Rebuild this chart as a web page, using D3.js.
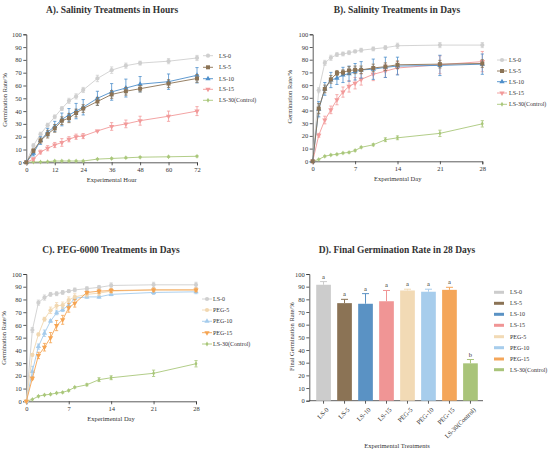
<!DOCTYPE html>
<html><head><meta charset="utf-8">
<script src="https://cdn.jsdelivr.net/npm/d3@7"></script>
<style>body{margin:0;background:#fff}svg{display:block}text{font-family:"Liberation Serif","Times New Roman",serif;fill:#333}</style>
</head><body>
<svg id="c" width="550" height="452"></svg>
<script>
// ---------- DATA ----------
const hours = [0,3,6,9,12,15,18,21,24,30,36,42,48,60,72];
const daysX = [0,1,2,3,4,5,6,7,8,10,12,14,21,28];
const hourTicks = [0,12,24,36,48,60,72];
const dayTicks = [0,7,14,21,28];
const yTicks = [0,10,20,30,40,50,60,70,80,90,100];

// Panel A (hours)
const aLS0  = [0,13,22,29,35.5,42,48,51.5,56.5,65.5,72,75.5,77.5,79,81.5];
const aLS5  = [0,9,17,22,26.5,32.5,34.5,38.5,42,47.5,53,55.5,57.5,61.5,65.5];
const aLS10 = [0,7,17,23.5,28,33.5,37,40,43,50,55,58,61,63,68];
const aLS15 = [0,2.5,8,11,13.5,15.5,18,20,20.5,24.5,28,30,32.5,36,40];
const aLS30 = [0,0.3,0.3,0.5,1,1,1,1,1,2.5,3,3.5,4,4.3,4.7];
const aLS0e  = [0,1.5,1.5,1.5,1.5,1.5,2,2,2,2.5,2.5,2,1.5,2,2];
const aLS5e  = [0,1.5,2,3,3,3,3.5,3,3,3,3,3,2.5,3,3];
const aLS10e = [0,2,3,3,4,5,5,6,6,5.5,6.5,7,6,6,6];
const aLS15e = [0,1,1.5,2,2,3,2,2,2,0.5,3,3,3.5,4,3.5];
const aLS30e = [0,0.2,0.2,0.3,0.5,0.5,0.5,0.5,0.5,0.5,0.5,0.5,0.5,0.5,0.5];

// Panel B (days, salinity)
const bLS0  = [0,56,77.5,81.5,84,84.5,85.5,86.5,87.5,88.5,89.5,91,91.5,91.5];
const bLS5  = [0,41.5,57,64.5,69.5,70,71.5,72,72,73.5,74.5,76,76.5,77];
const bLS10 = [0,41,57,64,65.5,68,69,70.5,72,72.5,74,75,75.5,76.5];
const bLS15 = [0,20.5,32.5,40.5,48.5,54.5,59,61.5,64.5,68.5,71,73.5,76,78.5];
const bLS30 = [0,1.5,4,5,5.5,6.5,7,8.5,11,13,17,18.5,22,29.5];
const bLS0e  = [0,2,2,2,1.5,1.5,1.5,1,1.5,1.5,1.5,2,2,2];
const bLS5e  = [0,4,3,3,2,2,3,3,3,3,3,3,3,3];
const bLS10e = [0,6,5,6,5,6,6,6.5,6.5,8,8,7,8,8];
const bLS15e = [0,1.5,3,3,4,4,4.5,4.5,4.5,5,5,5,7,8];
const bLS30e = [0,0.3,0.5,0.5,0.5,0.5,0.5,0.5,0.5,0.8,1.5,1.5,2.5,2.5];

// Panel C (days, PEG)
const cPEG5  = [0,36.5,52.5,64.5,71.5,75,75.5,79.5,82,84,85,86.5,87.5,87.5];
const cPEG10 = [0,23.5,43,53.5,63,69.5,72,75.5,81,82,82,84,85.5,86];
const cPEG15 = [0,18,36,42.5,50,59.5,64,73.5,77,85.5,86.5,87,87.5,87.5];
const cPEG5e  = [0,1,1,1.5,2.5,2.5,2.5,2.5,2.5,2,2,1.5,1,1];
const cPEG10e = [0,4,2,2.5,1,1.5,1.5,1.5,1.5,1,1,1,1.5,1.5];
const cPEG15e = [0,1,2.5,3,4,4,3.5,3.5,3,1,1.5,1.5,1.5,1.5];

// Panel D (final)
const treatments = ["LS-0","LS-5","LS-10","LS-15","PEG-5","PEG-10","PEG-15","LS-30(Control)"];
const finalRate  = [91.5,77,76.5,78.5,87,86,87.5,29.5];
const finalErr   = [2.5,3,8,8.5,1,2,2,3];
const letters    = ["a","a","a","a","a","a","a","b"];

// ---------- STYLE ----------
const col = {"LS-0":"#cfcfcf","LS-5":"#8b7355","LS-10":"#4e8fcb","LS-15":"#f29a9a",
  "PEG-5":"#f1d7b0","PEG-10":"#a4cbec","PEG-15":"#f5a452","LS-30(Control)":"#a9c77a"};
const barCol = {"LS-0":"#cccccc","LS-5":"#8b7355","LS-10":"#5a92c4","LS-15":"#f09595",
  "PEG-5":"#f2dab5","PEG-10":"#a7cdec","PEG-15":"#f4a65a","LS-30(Control)":"#a9c47a"};
const sym = {"LS-0":d3.symbolCircle,"LS-5":d3.symbolSquare,"LS-10":d3.symbolTriangle,"LS-15":d3.symbolTriangle,
  "PEG-5":d3.symbolCircle,"PEG-10":d3.symbolTriangle,"PEG-15":d3.symbolTriangle,"LS-30(Control)":d3.symbolDiamond};
const symSize = {"LS-0":14,"LS-5":16,"LS-10":12,"LS-15":12,"PEG-5":14,"PEG-10":12,"PEG-15":12,"LS-30(Control)":7};
const flip = {"LS-15":true,"PEG-15":true};

const svg = d3.select("#c");

function axes(g, x, y, xt, ylab, xlab, ylx, yly, xlx, xly){
  const ya = g.append("g").attr("transform",`translate(${x.range()[0]},0)`)
    .call(d3.axisLeft(y).tickValues(yTicks).tickSize(3).tickPadding(1.5));
  const xa = g.append("g").attr("transform",`translate(0,${y.range()[0]})`)
    .call(d3.axisBottom(x).tickValues(xt).tickSize(3).tickPadding(2));
  [ya,xa].forEach(a=>{a.selectAll("path,line").attr("stroke","#333").attr("stroke-width",0.8);
    a.selectAll("text").style("font-family","Liberation Serif").style("font-size","6.5px").attr("fill","#333");});
  g.append("text").attr("transform",`translate(${ylx},${yly}) rotate(-90)`).attr("text-anchor","middle")
    .style("font-size","6.5px").text(ylab);
  if(xlab) g.append("text").attr("x",xlx).attr("y",xly).attr("text-anchor","middle").style("font-size","6.5px").text(xlab);
}
function title(t,x,y){
  svg.append("text").attr("x",x).attr("y",y).attr("text-anchor","middle")
    .style("font-size","9.5px").style("font-weight","bold").attr("fill","#111").text(t);
}
function series(g, x, y, xs, vals, errs, name){
  const c = col[name];
  const line = d3.line().x((d,i)=>x(xs[i])).y(d=>y(d));
  g.append("path").attr("d",line(vals)).attr("fill","none").attr("stroke",c).attr("stroke-width",0.9);
  const eg = g.append("g");
  vals.forEach((v,i)=>{
    const e = errs[i]; if(e<=0) return;
    const cx = x(xs[i]);
    eg.append("line").attr("x1",cx).attr("x2",cx).attr("y1",y(v-e)).attr("y2",y(v+e)).attr("stroke",c).attr("stroke-width",0.8);
    [v-e,v+e].forEach(w=>eg.append("line").attr("x1",cx-1.6).attr("x2",cx+1.6).attr("y1",y(w)).attr("y2",y(w)).attr("stroke",c).attr("stroke-width",0.8));
  });
  const s = d3.symbol().type(sym[name]).size(symSize[name]);
  vals.forEach((v,i)=>{
    g.append("path").attr("d",s()).attr("fill",c)
      .attr("transform",`translate(${x(xs[i])},${y(v)})${flip[name]?" rotate(180)":""}`);
  });
}
function lineLegend(names, mx, tx, ys){
  names.forEach((n,i)=>{
    const c = col[n];
    svg.append("line").attr("x1",mx-5).attr("x2",mx+5).attr("y1",ys[i]).attr("y2",ys[i]).attr("stroke",c).attr("stroke-width",0.9);
    svg.append("path").attr("d",d3.symbol().type(sym[n]).size(symSize[n])()).attr("fill",c)
      .attr("transform",`translate(${mx},${ys[i]})${flip[n]?" rotate(180)":""}`);
    svg.append("text").attr("x",tx).attr("y",ys[i]+2).style("font-size","6px").text(n);
  });
}

// ---------- PANEL A ----------
{
  const g = svg.append("g");
  const x = d3.scaleLinear().domain([0,72]).range([26.3,197]);
  const y = d3.scaleLinear().domain([0,100]).range([162.3,34.3]);
  axes(g,x,y,hourTicks,"Germination Rate/%","Experimental Hour",6.5,100,111.7,182);
  series(g,x,y,hours,aLS30,aLS30e,"LS-30(Control)");
  series(g,x,y,hours,aLS15,aLS15e,"LS-15");
  series(g,x,y,hours,aLS0,aLS0e,"LS-0");
  series(g,x,y,hours,aLS10,aLS10e,"LS-10");
  series(g,x,y,hours,aLS5,aLS5e,"LS-5");
  title("A). Salinity Treatments in Hours",112,13);
  lineLegend(["LS-0","LS-5","LS-10","LS-15","LS-30(Control)"],208,219,[55.7,67.3,78.7,89.3,100.3]);
}
// ---------- PANEL B ----------
{
  const g = svg.append("g");
  const x = d3.scaleLinear().domain([0,28]).range([312.7,482.3]);
  const y = d3.scaleLinear().domain([0,100]).range([161.3,34.3]);
  axes(g,x,y,dayTicks,"Germination Rate/%","Experimental Day",292,96.7,397.7,181);
  series(g,x,y,daysX,bLS30,bLS30e,"LS-30(Control)");
  series(g,x,y,daysX,bLS0,bLS0e,"LS-0");
  series(g,x,y,daysX,bLS15,bLS15e,"LS-15");
  series(g,x,y,daysX,bLS10,bLS10e,"LS-10");
  series(g,x,y,daysX,bLS5,bLS5e,"LS-5");
  title("B). Salinity Treatments in Days",397,13);
  lineLegend(["LS-0","LS-5","LS-10","LS-15","LS-30(Control)"],502,509,[60,71,81.7,93,104.3]);
}
// ---------- PANEL C ----------
{
  const g = svg.append("g");
  const x = d3.scaleLinear().domain([0,28]).range([26.3,196]);
  const y = d3.scaleLinear().domain([0,100]).range([401.3,274]);
  axes(g,x,y,dayTicks,"Germination Rate/%","Experimental Day",6,338,111,421);
  series(g,x,y,daysX,bLS30,bLS30e,"LS-30(Control)");
  series(g,x,y,daysX,bLS0,bLS0e,"LS-0");
  series(g,x,y,daysX,cPEG10,cPEG10e,"PEG-10");
  series(g,x,y,daysX,cPEG5,cPEG5e,"PEG-5");
  series(g,x,y,daysX,cPEG15,cPEG15e,"PEG-15");
  title("C). PEG-6000 Treatments in Days",111,252.5);
  lineLegend(["LS-0","PEG-5","PEG-10","PEG-15","LS-30(Control)"],207,213,[299,310,321.3,332.7,344]);
}
// ---------- PANEL D ----------
{
  const g = svg.append("g");
  const x = d3.scaleBand().domain(treatments).range([316.2,477.8]).paddingInner(0.3).paddingOuter(0);
  const y = d3.scaleLinear().domain([0,100]).range([400.7,274]);
  const ya = g.append("g").attr("transform","translate(309.3,0)")
    .call(d3.axisLeft(y).tickValues(yTicks).tickSize(3).tickPadding(1.5));
  const xa = g.append("g").attr("transform",`translate(0,${y(0)})`)
    .call(d3.axisBottom(x).tickSize(3).tickPadding(2));
  xa.select(".domain").attr("d","M309.3,0H483");
  [ya,xa].forEach(a=>{a.selectAll("path,line").attr("stroke","#333").attr("stroke-width",0.8);
    a.selectAll("text").style("font-family","Liberation Serif").style("font-size","6.5px").attr("fill","#333");});
  xa.selectAll(".tick text").attr("text-anchor","end").attr("dy","0").attr("transform","translate(2,6) rotate(-45)");
  treatments.forEach((t,i)=>{
    const bx = x(t), bw = x.bandwidth(), cx = bx+bw/2;
    g.append("rect").attr("x",bx).attr("y",y(finalRate[i])).attr("width",bw).attr("height",y(0)-y(finalRate[i])).attr("fill",barCol[t]);
    const top = y(finalRate[i]+finalErr[i]);
    g.append("line").attr("x1",cx).attr("x2",cx).attr("y1",y(finalRate[i])).attr("y2",top).attr("stroke",barCol[t]).attr("stroke-width",1);
    g.append("line").attr("x1",cx-3.5).attr("x2",cx+3.5).attr("y1",top).attr("y2",top).attr("stroke",barCol[t]).attr("stroke-width",1);
    g.append("text").attr("x",cx).attr("y",top-3).attr("text-anchor","middle").style("font-size","6.5px").text(letters[i]);
  });
  g.append("text").attr("transform","translate(293.5,336.7) rotate(-90)").attr("text-anchor","middle").style("font-size","6.5px").text("Final Germination Rate/%");
  g.append("text").attr("x",397).attr("y",448).attr("text-anchor","middle").style("font-size","6.5px").text("Experimental Treatments");
  title("D). Final Germination Rate in 28 Days",397,252.5);
  const ly = [292.3,303.3,314.3,325.3,336.7,347.7,359,369.7];
  treatments.forEach((t,i)=>{
    svg.append("rect").attr("x",494).attr("y",ly[i]-1.5).attr("width",10).attr("height",3).attr("fill",barCol[t]);
    svg.append("text").attr("x",510).attr("y",ly[i]+2).style("font-size","6px").text(t);
  });
}
</script>
</body></html>
